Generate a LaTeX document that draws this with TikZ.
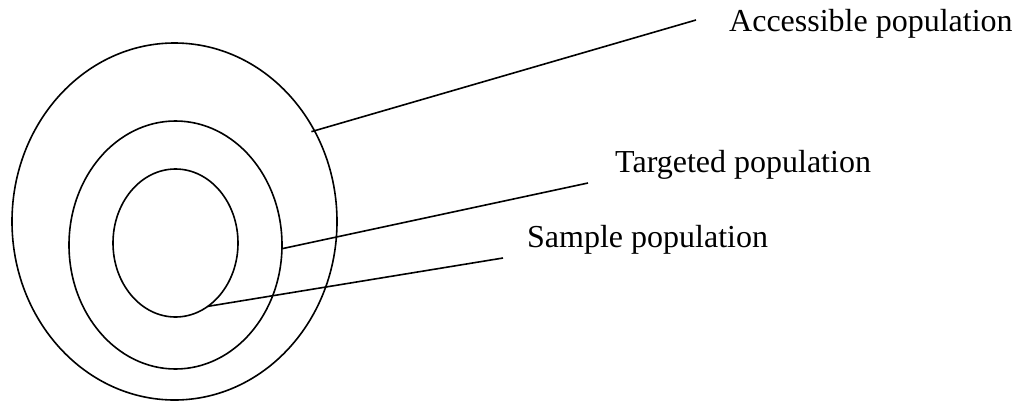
\documentclass[tikz,border=0pt]{standalone}
\usepackage{fontspec}
\setmainfont{Liberation Serif}
\usetikzlibrary{shapes.geometric}
\begin{document}
\begin{tikzpicture}[x=1pt,y=-1pt,
  ring/.style={ellipse,draw,line width=1.6pt,inner sep=0pt,outer sep=0pt},
  lbl/.style={anchor=base west,inner sep=0pt,font=\fontsize{32}{38}\selectfont},
  leader/.style={line width=1.6pt}]
\useasboundingbox (0,0) rectangle (1017,402);
\node[ring,minimum width=325pt,minimum height=357pt] (outer) at (174.5,221.5) {};
\node[ring,minimum width=213pt,minimum height=248pt] (middle) at (175.5,245) {};
\node[ring,minimum width=125pt,minimum height=148pt] (inner) at (175.5,243) {};
\coordinate (aend) at (696,20);
\coordinate (tend) at (588,183);
\coordinate (send) at (503,258);
\node[lbl] (acc) at (729,31) {Accessible population};
\node[lbl] (tar) at (615,172) {Targeted population};
\node[lbl] (sam) at (527,247) {Sample population};
\draw[leader] ([shift={(-3,1)}]outer.33) -- (aend);
\draw[leader] (middle.-2) -- (tend);
\draw[leader] (inner.-63) -- (send);
\end{tikzpicture}
\end{document}
